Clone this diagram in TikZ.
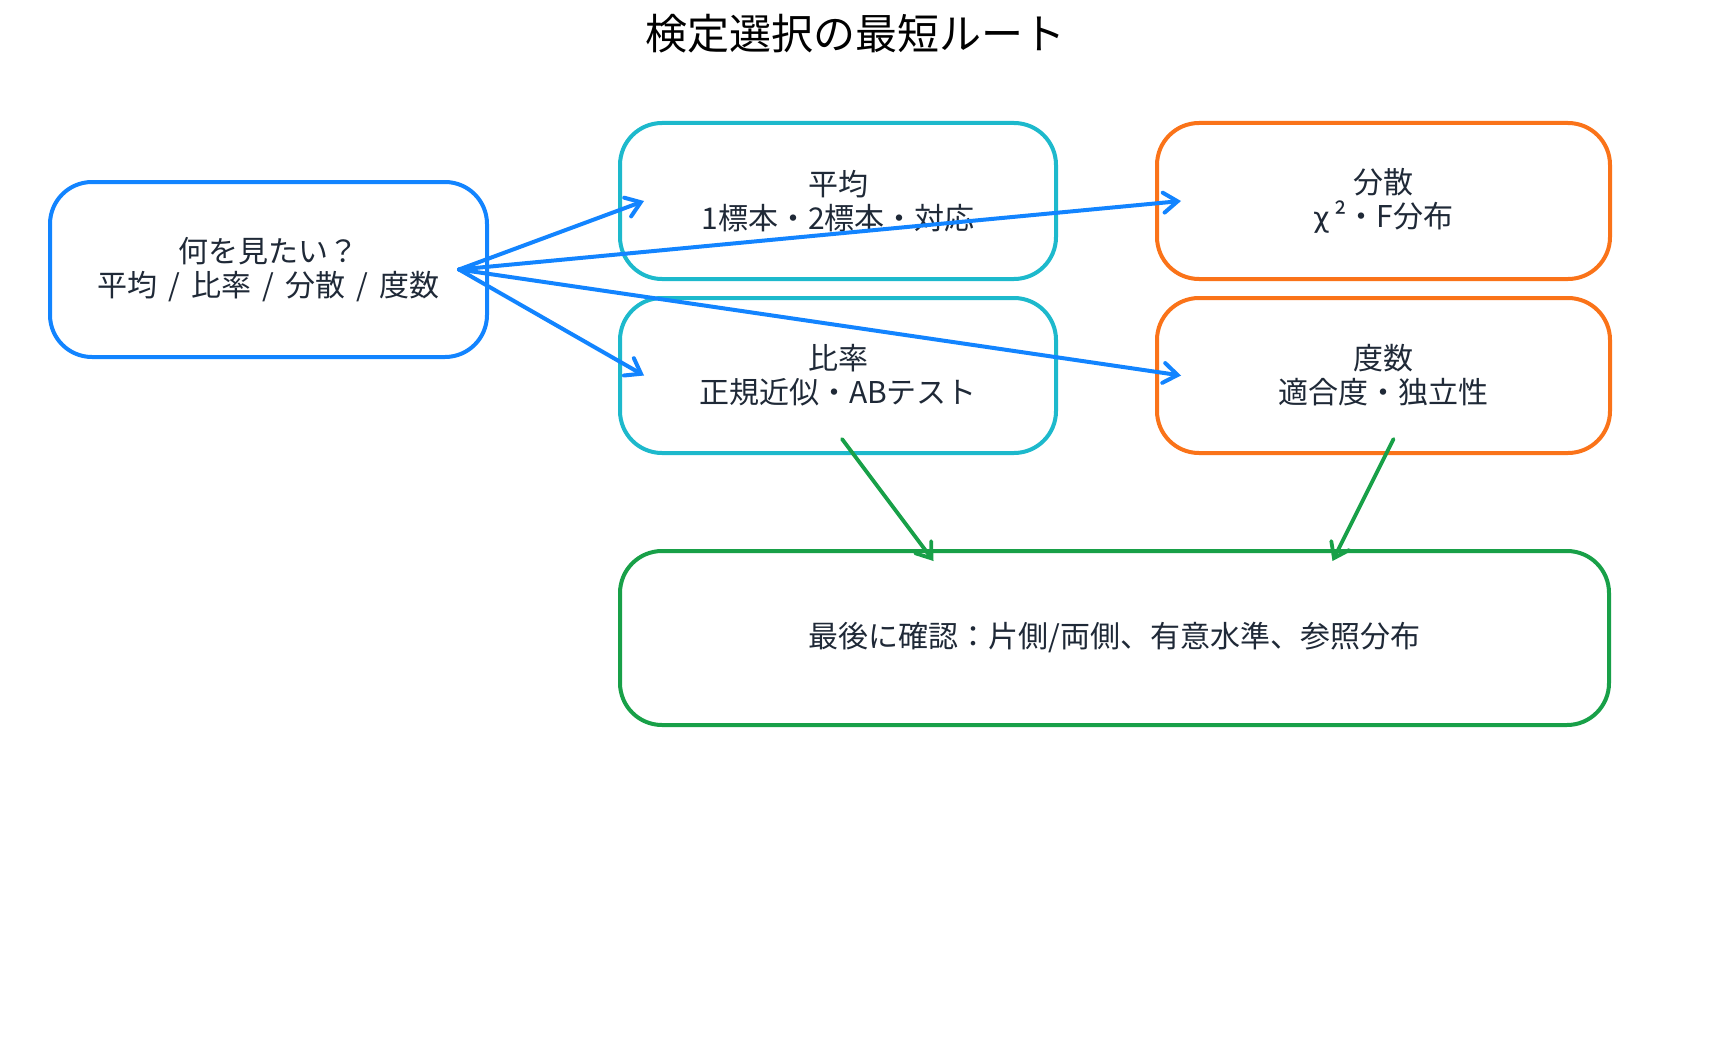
\documentclass[tikz,border=0pt]{standalone}
\usepackage{fontspec}
\setmainfont{Noto Sans CJK JP}
\newfontfamily\grkfont{DejaVu Sans}
\usetikzlibrary{arrows.meta}
\definecolor{cblue}{HTML}{1284FF}
\definecolor{cteal}{HTML}{1DB9CC}
\definecolor{corange}{HTML}{FA7319}
\definecolor{cgreen}{HTML}{18A048}
\definecolor{ctext}{HTML}{1F2937}
\newcommand{\sepsl}{\hspace{11pt}/\hspace{11pt}}
\begin{document}
\begin{tikzpicture}[x=1pt,y=-1pt,
  box/.style={draw, line width=4pt, rounded corners=42pt, fill=white,
    text=ctext, align=center, font=\fontsize{30}{34}\selectfont},
  barrow/.style={draw=cblue, line width=4pt, line cap=round,
    -{Straight Barb[length=14pt,width=20pt,line cap=round]}},
  garrow/.style={draw=cgreen, line width=3.8pt, line cap=round,
    -{Straight Barb[length=14pt,width=20pt,line cap=round]}}]
\useasboundingbox (0,0) rectangle (1710,1054);
\node[font=\fontsize{42}{48}\selectfont, text=black] (title) at (855,34) {検定選択の最短ルート};
\node[box, draw=cblue, minimum width=437pt, minimum height=175pt] (q) at (268.5,269.5) {何を見たい？\\平均\sepsl 比率\sepsl 分散\sepsl 度数};
\node[box, draw=cteal, minimum width=436pt, minimum height=156pt] (mean) at (838,201) {平均\\1標本・2標本・対応};
\node[box, draw=cteal, minimum width=436pt, minimum height=155pt] (prop) at (838,375.5) {比率\\正規近似・ABテスト};
\node[box, draw=corange, minimum width=453pt, minimum height=156pt] (var) at (1383.5,201) {分散\\{\grkfont\fontsize{28}{34}\selectfont χ}\,²・F分布};
\node[box, draw=corange, minimum width=453pt, minimum height=155pt] (freq) at (1383.5,375.5) {度数\\適合度・独立性};
\node[box, draw=cgreen, minimum width=989pt, minimum height=174pt] (final) at (1114.5,638) {最後に確認：片側/両側、有意水準、参照分布};
\coordinate (s) at ([xshift=-30pt]q.east);
\draw[barrow] (s) -- ([xshift=26pt]mean.west);
\draw[barrow] (s) -- ([xshift=26pt]prop.west);
\draw[barrow] (s) -- ([xshift=26pt]var.west);
\draw[barrow] (s) -- ([xshift=26pt]freq.west);
\draw[garrow] ([xshift=4pt,yshift=16pt]prop.south) -- ([xshift=-181pt,yshift=-12pt]final.north);
\draw[garrow] ([xshift=10pt,yshift=16pt]freq.south) -- ([xshift=218pt,yshift=-12pt]final.north);
\end{tikzpicture}
\end{document}
